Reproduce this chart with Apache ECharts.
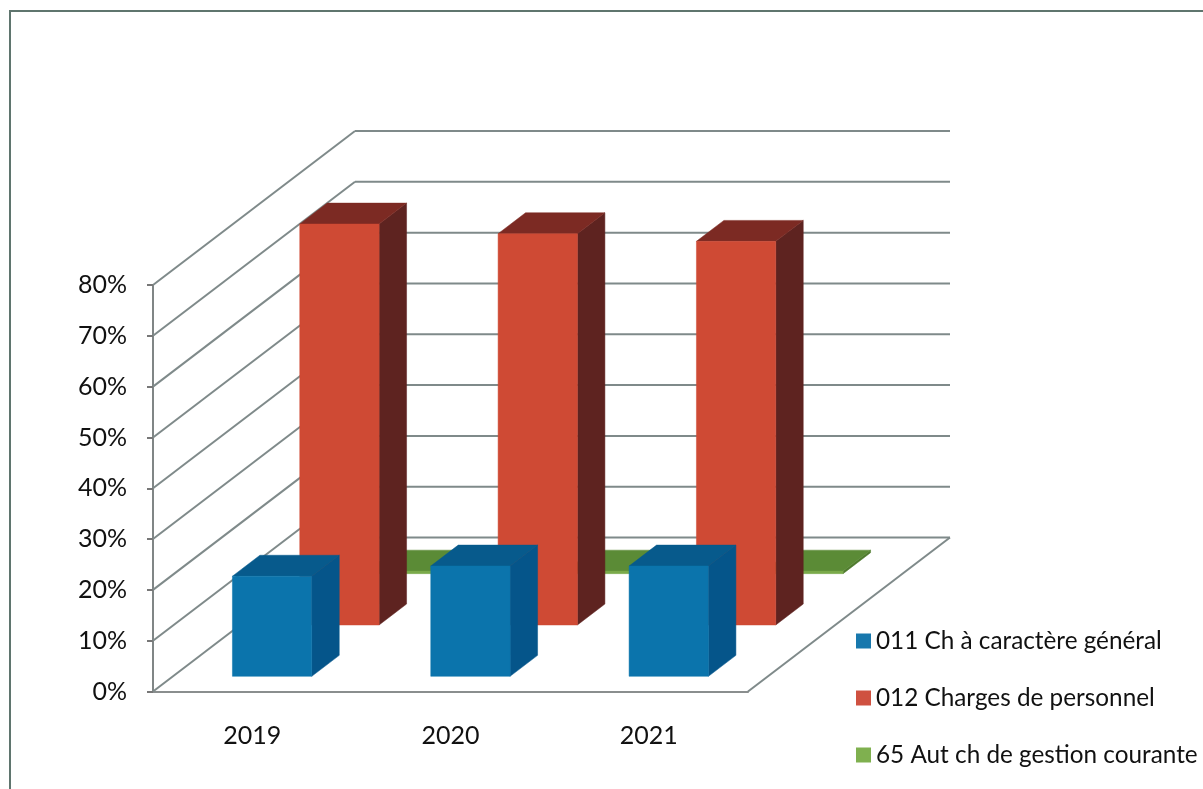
<!DOCTYPE html>
<html>
<head>
<meta charset="utf-8">
<style>html,body{margin:0;padding:0;background:#fff}#c{width:1203px;height:789px}</style>
<script src="https://cdn.jsdelivr.net/npm/echarts@6/dist/echarts.min.js"></script>
</head>
<body>
<div id="c"></div>
<script>
const categories = ['2019', '2020', '2021'];
const seriesNames = ['011 Ch à caractère général', '012 Charges de personnel', '65 Aut ch de gestion courante'];
const charges011 = [0.197, 0.217, 0.217];
const charges012 = [0.789, 0.77, 0.755];
const charges65 = [0.005, 0.005, 0.005];
const yTicks = [0, 0.1, 0.2, 0.3, 0.4, 0.5, 0.6, 0.7, 0.8];

const DX = 202, DY = -154, BAR_DEPTH = 0.136;
const WALL = '#7f8a8a';
const FACES = [
  { front: '#0b74ac', top: '#075a8c', side: '#05558a' },
  { front: '#cf4a34', top: '#7c2a23', side: '#5e2320' },
  { front: '#7aaa4a', top: '#5b8b36', side: '#4f7a2e' }
];

function poly(points, fill) {
  return { type: 'polygon', shape: { points }, style: { fill, stroke: fill, lineWidth: 0.5 } };
}
function barRenderer(idx) {
  const faces = FACES[idx];
  return function (params, api) {
    const f = (idx + 0.5) / 3 - BAR_DEPTH / 2;
    const b = f + BAR_DEPTH;
    const c = api.coord([api.value(0), 0]);
    const t = api.coord([api.value(0), api.value(1)]);
    const hw = api.size([1, 0])[0] * 0.2;
    const cx = c[0] + f * DX, by = c[1] + f * DY, ty = t[1] + f * DY;
    const ox = (b - f) * DX, oy = (b - f) * DY;
    const l = cx - hw, r = cx + hw;
    return {
      type: 'group',
      children: [
        poly([[r, by], [r + ox, by + oy], [r + ox, ty + oy], [r, ty]], faces.side),
        poly([[l, ty], [r, ty], [r + ox, ty + oy], [l + ox, ty + oy]], faces.top),
        poly([[l, by], [r, by], [r, ty], [l, ty]], faces.front)
      ]
    };
  };
}
function wallRenderer(params, api) {
  const cs = params.coordSys;
  const y = api.coord([0, api.value(0)])[1];
  const x0 = cs.x, x1 = cs.x + cs.width;
  const line = (a, b, c, d) => ({
    type: 'line', shape: { x1: a, y1: b, x2: c, y2: d },
    style: { stroke: WALL, lineWidth: 2 }
  });
  const kids = [
    line(x0, y, x0 + DX, y + DY),
    line(x0 + DX, y + DY, x1 + DX, y + DY)
  ];
  if (api.value(0) === 0) kids.push(line(x1, y, x1 + DX, y + DY));
  return { type: 'group', children: kids };
}
function barSeries(idx, values) {
  return {
    type: 'custom',
    name: seriesNames[idx],
    z: 10 - idx,
    silent: true,
    itemStyle: { color: ['#1878ad', '#cf5140', '#7fb04f'][idx] },
    encode: { x: 0, y: 1 },
    data: values.map((v, i) => [i, v]),
    renderItem: barRenderer(idx)
  };
}

const chart = echarts.init(document.getElementById('c'), null, { renderer: 'canvas' });
chart.setOption({
  animation: false,
  backgroundColor: '#ffffff',
  graphic: [{
    type: 'polyline',
    silent: true,
    shape: { points: [[10, 789], [10, 11], [1203, 11]] },
    style: { fill: 'none', stroke: '#5f756e', lineWidth: 2 }
  }],
  grid: { left: 153, top: 285, width: 595, height: 406.5 },
  legend: {
    orient: 'vertical',
    left: 856,
    top: 629,
    padding: 0,
    itemWidth: 15,
    itemHeight: 15,
    itemGap: 33,
    selectedMode: false,
    data: seriesNames,
    icon: 'rect',
    textStyle: { fontFamily: 'Lato', fontSize: 24.3, color: '#111111', padding: [0, 0, 0, 0] }
  },
  xAxis: {
    type: 'category',
    data: categories,
    axisLine: { lineStyle: { color: '#8a8e8e', width: 2 } },
    axisTick: { length: 6, lineStyle: { color: '#777', width: 2 } },
    axisLabel: { margin: 32, fontFamily: 'Lato', fontSize: 25, color: '#111111' }
  },
  yAxis: {
    type: 'value',
    min: 0,
    max: 0.8,
    interval: 0.1,
    splitLine: { show: false },
    axisLine: { show: true, lineStyle: { color: '#808686', width: 2 } },
    axisTick: { show: true, length: 6, lineStyle: { color: '#777', width: 2 } },
    axisLabel: {
      margin: 26,
      fontFamily: 'Lato',
      fontSize: 25,
      color: '#111111',
      formatter: v => Math.round(v * 100) + '%'
    }
  },
  series: [
    {
      type: 'custom',
      z: 1,
      silent: true,
      encode: { y: 0 },
      data: yTicks.map(v => [v]),
      renderItem: wallRenderer
    },
    barSeries(0, charges011),
    barSeries(1, charges012),
    barSeries(2, charges65)
  ]
});
</script>
</body>
</html>
